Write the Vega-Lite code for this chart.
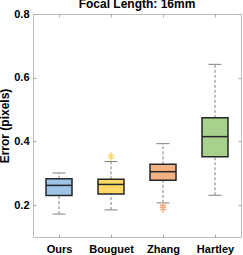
{
  "$schema": "https://vega.github.io/schema/vega-lite/v6.json",
  "width": 208,
  "height": 223,
  "autosize": {"type": "none"},
  "padding": {"left": 33, "top": 14, "right": 2, "bottom": 18},
  "title": {"text": "Focal Length: 16mm", "font": "Liberation Sans", "fontSize": 12, "fontWeight": "bold", "color": "#000000", "offset": -3, "anchor": "middle"},
  "datasets": {
    "boxes": [
      {"method": "Ours", "lower": 0.172, "q1": 0.230, "median": 0.262, "q3": 0.283, "upper": 0.301},
      {"method": "Bouguet", "lower": 0.185, "q1": 0.235, "median": 0.265, "q3": 0.281, "upper": 0.337},
      {"method": "Zhang", "lower": 0.207, "q1": 0.278, "median": 0.305, "q3": 0.328, "upper": 0.393},
      {"method": "Hartley", "lower": 0.231, "q1": 0.352, "median": 0.415, "q3": 0.474, "upper": 0.642}
    ],
    "outliers": [
      {"method": "Bouguet", "value": 0.357},
      {"method": "Bouguet", "value": 0.349},
      {"method": "Zhang", "value": 0.200},
      {"method": "Zhang", "value": 0.193},
      {"method": "Zhang", "value": 0.186}
    ]
  },
  "data": {"name": "boxes"},
  "encoding": {
    "x": {"field": "method", "type": "nominal", "sort": ["Ours", "Bouguet", "Zhang", "Hartley"],
      "scale": {"type": "point", "padding": 0.5},
      "axis": null}
  },
  "layer": [
    {
      "mark": {"type": "rule", "color": "#808080", "strokeDash": [3, 2], "strokeWidth": 1},
      "encoding": {
        "y": {"field": "lower", "type": "quantitative", "scale": {"domain": [0.1, 0.8], "nice": false, "zero": false}, "axis": null},
        "y2": {"field": "q1"}
      }
    },
    {
      "mark": {"type": "rule", "color": "#808080", "strokeDash": [3, 2], "strokeWidth": 1},
      "encoding": {
        "y": {"field": "q3", "type": "quantitative", "axis": null},
        "y2": {"field": "upper"}
      }
    },
    {
      "mark": {"type": "tick", "color": "#808080", "size": 13, "thickness": 1, "opacity": 1},
      "encoding": {"y": {"field": "upper", "type": "quantitative", "axis": null}}
    },
    {
      "mark": {"type": "tick", "color": "#808080", "size": 13, "thickness": 1, "opacity": 1},
      "encoding": {"y": {"field": "lower", "type": "quantitative", "axis": null}}
    },
    {
      "mark": {"type": "bar", "size": 26, "stroke": "#262626", "strokeWidth": 1.5, "opacity": 1},
      "encoding": {
        "x": {"field": "method", "type": "nominal", "sort": ["Ours", "Bouguet", "Zhang", "Hartley"],
          "axis": {"orient": "bottom", "title": null, "labelFont": "Liberation Sans", "labelFontSize": 11, "labelFontWeight": "bold", "labelColor": "#000000", "labelAngle": 0, "labelPadding": 9, "domain": false, "ticks": true, "tickSize": -3, "tickColor": "#aaaaaa", "grid": false}},
        "y": {"field": "q1", "type": "quantitative",
          "axis": {"orient": "left", "values": [0.2, 0.4, 0.6, 0.8], "format": ".1f", "title": "Error (pixels)", "titleFont": "Liberation Sans", "titleFontSize": 12, "titleFontWeight": "bold", "titleColor": "#000000", "titlePadding": 2, "labelFont": "Liberation Sans", "labelFontSize": 11, "labelFontWeight": "bold", "labelColor": "#000000", "labelPadding": 7, "domain": false, "ticks": true, "tickSize": -3, "tickColor": "#aaaaaa", "grid": false}},
        "y2": {"field": "q3"},
        "color": {"field": "method", "type": "nominal",
          "scale": {"domain": ["Ours", "Bouguet", "Zhang", "Hartley"], "range": ["#9DC3E6", "#FFD966", "#F4B183", "#A9D18E"]},
          "legend": null}
      }
    },
    {
      "mark": {"type": "tick", "color": "#262626", "size": 26, "thickness": 1.5, "opacity": 1},
      "encoding": {
        "x": {"field": "method", "type": "nominal", "sort": ["Ours", "Bouguet", "Zhang", "Hartley"],
          "axis": {"orient": "top", "title": null, "labels": false, "domain": false, "ticks": true, "tickSize": -3, "tickColor": "#aaaaaa", "grid": false}},
        "y": {"field": "median", "type": "quantitative",
          "axis": {"orient": "right", "values": [0.2, 0.4, 0.6, 0.8], "title": null, "labels": false, "domain": false, "ticks": true, "tickSize": -3, "tickColor": "#aaaaaa", "grid": false}}
      }
    },
    {
      "data": {"name": "outliers"},
      "mark": {"type": "point", "shape": "M-1,0L1,0M0,-1L0,1", "size": 40, "strokeWidth": 1.5, "filled": false, "opacity": 1},
      "encoding": {
        "y": {"field": "value", "type": "quantitative", "axis": null},
        "color": {"field": "method", "type": "nominal", "legend": null}
      }
    }
  ],
  "config": {
    "view": {"stroke": "#bdbdbd", "strokeWidth": 1},
    "background": "#ffffff"
  }
}
